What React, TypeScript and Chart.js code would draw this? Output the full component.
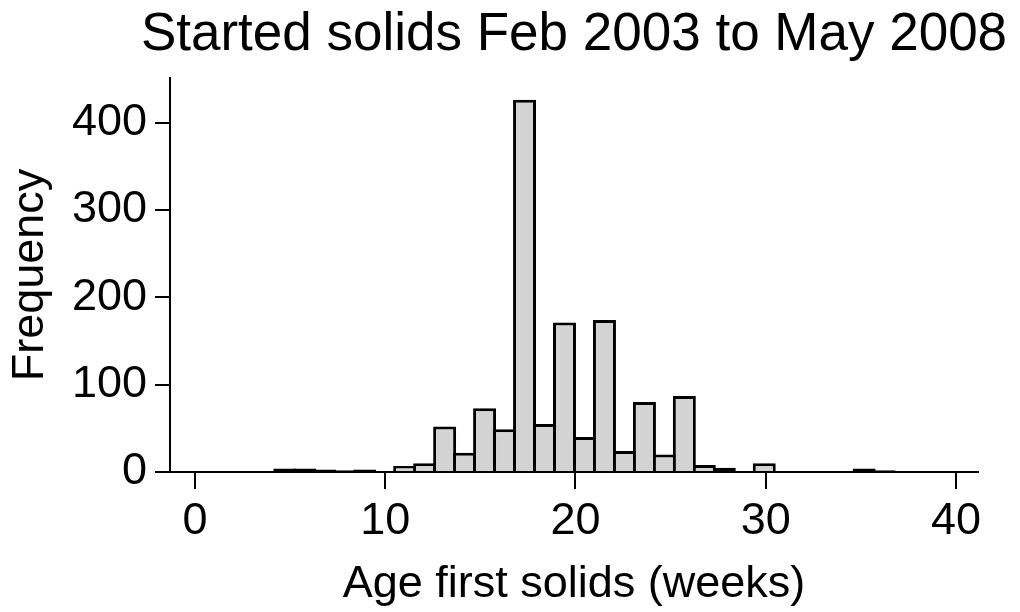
import React, { useEffect, useRef } from "react";
import { Chart, registerables } from "chart.js";

Chart.register(...registerables);

// Histogram bins (centres, weeks) and frequencies
const binCenters = [
  4.725, 5.775, 6.825, 7.875, 8.925, 9.975, 11.025, 12.075, 13.125, 14.175,
  15.225, 16.275, 17.325, 18.375, 19.425, 20.475, 21.525, 22.575, 23.625,
  24.675, 25.725, 26.775, 27.825, 28.875, 29.925, 30.975, 32.025, 33.075,
  34.125, 35.175, 36.225,
];
const frequencies = [
  4, 4, 3, 2, 3, 0, 7, 10, 52, 22, 73, 49, 426, 55, 171, 40, 174, 24, 80, 20,
  87, 8, 5, 0, 10, 0, 0, 0, 0, 4, 2,
];
const xTickValues = [0, 10, 20, 30, 40];
const yTickValues = [0, 100, 200, 300, 400];
const chartTitle = "Started solids Feb 2003 to May 2008";
const xAxisTitle = "Age first solids (weeks)";
const yAxisTitle = "Frequency";

const FONT = "'Liberation Sans', Arial, Helvetica, sans-serif";

const titlePlugin = {
  id: "centeredTitle",
  afterDraw(chart: any) {
    const { ctx, chartArea } = chart;
    ctx.save();
    ctx.font = `53px ${FONT}`;
    ctx.fillStyle = "#000000";
    ctx.textAlign = "center";
    ctx.textBaseline = "middle";
    ctx.fillText(chartTitle, (chartArea.left + chartArea.right) / 2, 35);
    ctx.restore();
  },
};

export default function App() {
  const canvasRef = useRef<HTMLCanvasElement | null>(null);

  useEffect(() => {
    const canvas = canvasRef.current;
    if (!canvas) return;
    const chart = new Chart(canvas, {
      type: "bar",
      data: {
        datasets: [
          {
            data: binCenters.map((x, i) => ({ x, y: frequencies[i] })),
            backgroundColor: "#d3d3d3",
            borderColor: "#000000",
            borderWidth: 3,
            // very short bars render as solid outline strokes, as in the reference
            borderSkipped: (c: any) =>
              c.raw && c.raw.y < 6 ? false : "start",
            barPercentage: 1.15,
            categoryPercentage: 1,
          } as any,
        ],
      },
      plugins: [titlePlugin],
      options: {
        animation: false,
        responsive: false,
        layout: { padding: { left: 0, right: 42, top: 78, bottom: 0 } },
        plugins: {
          legend: { display: false },
          tooltip: { enabled: false },
          title: { display: false },
        },
        scales: {
          x: {
            type: "linear",
            offset: false,
            min: -1.31,
            max: 41.16,
            afterBuildTicks: (s: any) => {
              s.ticks = xTickValues.map((v) => ({ value: v }));
            },
            afterFit: (s: any) => {
              s.height = 140;
            },
            grid: {
              display: true,
              offset: false,
              drawOnChartArea: false,
              drawTicks: true,
              tickLength: 17,
              color: "#000000",
              lineWidth: 2,
            },
            border: { display: true, color: "#000000", width: 2 },
            ticks: {
              color: "#000000",
              font: { family: FONT, size: 45 },
              padding: 6,
              maxRotation: 0,
              autoSkip: false,
            },
            title: {
              display: true,
              text: xAxisTitle,
              color: "#000000",
              font: { family: FONT, size: 45 },
              padding: { top: 0, bottom: 0 },
            },
          },
          y: {
            type: "linear",
            min: 0,
            max: 451,
            afterBuildTicks: (s: any) => {
              s.ticks = yTickValues.map((v) => ({ value: v }));
            },
            afterFit: (s: any) => {
              s.width = 170;
            },
            grid: {
              display: true,
              drawOnChartArea: false,
              drawTicks: true,
              tickLength: 15,
              color: "#000000",
              lineWidth: 2,
            },
            border: { display: true, color: "#000000", width: 2 },
            ticks: {
              color: "#000000",
              font: { family: FONT, size: 45 },
              padding: 8,
              autoSkip: false,
            },
            title: {
              display: true,
              text: yAxisTitle,
              color: "#000000",
              font: { family: FONT, size: 45 },
              padding: { top: 4, bottom: 0 },
            },
          },
        },
      } as any,
    });
    return () => chart.destroy();
  }, []);

  return (
    <div
      style={{
        position: "fixed",
        left: 0,
        top: 0,
        width: 1020,
        height: 612,
        background: "#ffffff",
      }}
    >
      <canvas
        ref={canvasRef}
        width={1020}
        height={612}
        style={{ display: "block", width: 1020, height: 612 }}
      />
    </div>
  );
}
